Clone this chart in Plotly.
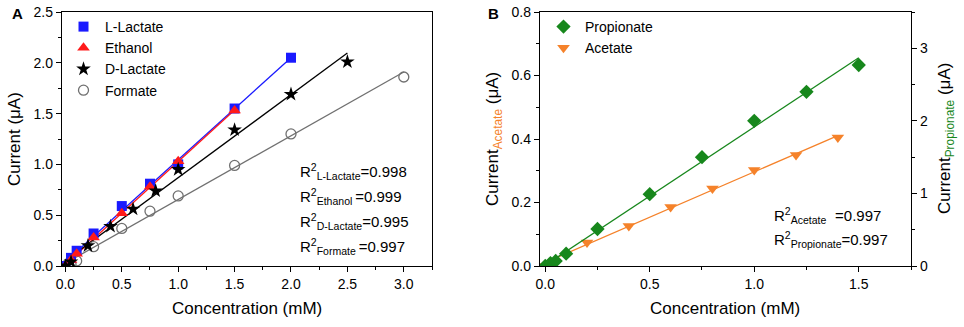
import numpy as np
import plotly.graph_objects as go

# ---------- Panel A data ----------
llac_x = [0, 0.05, 0.1, 0.25, 0.5, 0.75, 1.0, 1.5, 2.0]
llac_y = [0, 0.08, 0.15, 0.32, 0.59, 0.81, 1.00, 1.55, 2.05]
eth_x = [0, 0.05, 0.1, 0.25, 0.5, 0.75, 1.0, 1.5]
eth_y = [0, 0.06, 0.12, 0.28, 0.52, 0.78, 1.03, 1.53]
dlac_x = [0, 0.05, 0.2, 0.4, 0.6, 0.8, 1.0, 1.5, 2.0, 2.5]
dlac_y = [0, 0.04, 0.20, 0.39, 0.56, 0.74, 0.95, 1.34, 1.69, 2.01]
form_x = [0, 0.05, 0.1, 0.25, 0.5, 0.75, 1.0, 1.5, 2.0, 3.0]
form_y = [0, 0.02, 0.05, 0.19, 0.37, 0.54, 0.69, 0.99, 1.30, 1.86]
r2_a_names = ["L-Lactate", "Ethanol ", "D-Lactate", "Formate "]
r2_a_vals = ["0.998", "0.999", "0.995", "0.997"]

# ---------- Panel B data ----------
prop_x = [0, 0.025, 0.05, 0.1, 0.25, 0.5, 0.75, 1.0, 1.25, 1.5]
prop_y = [0, 0.04, 0.07, 0.17, 0.51, 0.99, 1.50, 2.00, 2.40, 2.77]   # right axis
acet_x = [0, 0.2, 0.4, 0.6, 0.8, 1.0, 1.2, 1.4]
acet_y = [0, 0.074, 0.126, 0.186, 0.244, 0.302, 0.350, 0.405]        # left axis
r2_b_names = ["Acetate   ", "Propionate"]
r2_b_vals = ["0.997", "0.997"]

FONT = "Liberation Sans, Arial, sans-serif"
BLUE, RED, BLACK, GRAY = "#1a1aff", "#ff1a1a", "#000000", "#707070"
GREEN, ORANGE = "#17871c", "#f5822a"


def fit_line(x, y):
    k, b = np.polyfit(x, y, 1)
    xs = np.array([min(x), max(x)])
    return xs, k * xs + b


fig = go.Figure()

# Panel A fit lines
for x, y, c in [(llac_x, llac_y, BLUE), (eth_x, eth_y, RED),
                (dlac_x, dlac_y, BLACK), (form_x, form_y, GRAY)]:
    fx, fy = fit_line(x, y)
    fig.add_trace(go.Scatter(x=fx, y=fy, mode="lines", line=dict(color=c, width=1.3),
                             showlegend=False, xaxis="x", yaxis="y", hoverinfo="skip"))

fig.add_trace(go.Scatter(x=form_x, y=form_y, mode="markers", name="Formate",
                         marker=dict(symbol="circle-open", size=10, color=GRAY, line=dict(width=1.3)),
                         xaxis="x", yaxis="y", legend="legend", legendrank=4))
fig.add_trace(go.Scatter(x=llac_x, y=llac_y, mode="markers", name="L-Lactate",
                         marker=dict(symbol="square", size=10, color=BLUE),
                         xaxis="x", yaxis="y", legend="legend", legendrank=1))
fig.add_trace(go.Scatter(x=eth_x, y=eth_y, mode="markers", name="Ethanol",
                         marker=dict(symbol="triangle-up", size=11, color=RED),
                         xaxis="x", yaxis="y", legend="legend", legendrank=2))
fig.add_trace(go.Scatter(x=dlac_x, y=dlac_y, mode="markers", name="D-Lactate",
                         marker=dict(symbol="star", size=11, color=BLACK),
                         xaxis="x", yaxis="y", legend="legend", legendrank=3))

# Panel B fit lines
fx, fy = fit_line(prop_x, prop_y)
fig.add_trace(go.Scatter(x=fx, y=fy, mode="lines", line=dict(color=GREEN, width=1.3),
                         showlegend=False, xaxis="x2", yaxis="y3", hoverinfo="skip"))
fx, fy = fit_line(acet_x, acet_y)
fig.add_trace(go.Scatter(x=fx, y=fy, mode="lines", line=dict(color=ORANGE, width=1.3),
                         showlegend=False, xaxis="x2", yaxis="y2", hoverinfo="skip"))
fig.add_trace(go.Scatter(x=prop_x, y=prop_y, mode="markers", name="Propionate",
                         marker=dict(symbol="diamond", size=11, color=GREEN),
                         xaxis="x2", yaxis="y3", legend="legend2", legendrank=1))
fig.add_trace(go.Scatter(x=acet_x, y=acet_y, mode="markers", name="Acetate",
                         marker=dict(symbol="triangle-down", size=11, color=ORANGE),
                         xaxis="x2", yaxis="y2", legend="legend2", legendrank=2))

W, H = 964, 327
ya_dom = [1 - 266 / H, 1 - 12 / H]
axcommon = dict(showline=True, linecolor="black", linewidth=1.3, ticks="outside",
                ticklen=5, tickwidth=1.2, tickcolor="black", showgrid=False, zeroline=False,
                tickfont=dict(family=FONT, size=14, color="black"), automargin=False)


def minor(vals):
    return dict(tickvals=vals, ticks="outside", ticklen=3, tickwidth=1, tickcolor="black")


fig.update_layout(
    width=W, height=H, margin=dict(l=0, r=0, t=0, b=0),
    paper_bgcolor="white", plot_bgcolor="white",
    font=dict(family=FONT, color="black"),
    xaxis=dict(domain=[62 / W, 432 / W], range=[-0.03, 3.25], anchor="y",
               tickvals=[0, 0.5, 1.0, 1.5, 2.0, 2.5, 3.0], tickformat=".1f",
               mirror=True, minor=minor([0.25, 0.75, 1.25, 1.75, 2.25, 2.75, 3.25]), **axcommon),
    yaxis=dict(domain=ya_dom, range=[0, 2.5], anchor="x",
               tickvals=[0, 0.5, 1.0, 1.5, 2.0, 2.5], tickformat=".1f", mirror=True,
               minor=minor([0.25, 0.75, 1.25, 1.75, 2.25]), **axcommon),
    xaxis2=dict(domain=[540 / W, 911 / W], range=[-0.025, 1.75], anchor="y2",
                tickvals=[0, 0.5, 1.0, 1.5], tickformat=".1f", mirror=True,
                minor=minor([0.25, 0.75, 1.25, 1.75]), **axcommon),
    yaxis2=dict(domain=ya_dom, range=[0, 0.8], anchor="x2",
                tickvals=[0, 0.2, 0.4, 0.6, 0.8], tickformat=".1f",
                minor=minor([0.1, 0.3, 0.5, 0.7]), **axcommon),
    yaxis3=dict(range=[0, 3.5], overlaying="y2", side="right", anchor="x2",
                tickvals=[0, 1, 2, 3], minor=minor([0.5, 1.5, 2.5, 3.5]), **axcommon),
    legend=dict(x=62 / W, y=1 - 11 / H, xanchor="left", yanchor="top",
                bgcolor="rgba(0,0,0,0)", font=dict(family=FONT, size=14),
                tracegroupgap=0, itemwidth=33),
    legend2=dict(x=542 / W, y=1 - 11 / H, xanchor="left", yanchor="top",
                 bgcolor="rgba(0,0,0,0)", font=dict(family=FONT, size=14),
                 tracegroupgap=0, itemwidth=33),
)

ann = []
ann.append(dict(text="<b>A</b>", x=10 / W, y=1 - 13 / H, xref="paper", yref="paper",
                xanchor="left", yanchor="middle", showarrow=False, font=dict(size=15, family=FONT)))
ann.append(dict(text="<b>B</b>", x=486 / W, y=1 - 13 / H, xref="paper", yref="paper",
                xanchor="left", yanchor="middle", showarrow=False, font=dict(size=15, family=FONT)))
ann.append(dict(text="Concentration (mM)", x=247 / W, y=1 - 308 / H, xref="paper", yref="paper",
                xanchor="center", yanchor="middle", showarrow=False, font=dict(size=17, family=FONT)))
ann.append(dict(text="Concentration (mM)", x=725 / W, y=1 - 308 / H, xref="paper", yref="paper",
                xanchor="center", yanchor="middle", showarrow=False, font=dict(size=17, family=FONT)))
ann.append(dict(text="Current (μA)", x=14 / W, y=1 - 139 / H, xref="paper", yref="paper",
                xanchor="center", yanchor="middle", textangle=-90, showarrow=False,
                font=dict(size=17, family=FONT)))
ann.append(dict(text=f"Current<sub><span style='color:{ORANGE}'>Acetate</span></sub> (μA)",
                x=494 / W, y=1 - 139 / H, xref="paper", yref="paper",
                xanchor="center", yanchor="middle", textangle=-90, showarrow=False,
                font=dict(size=17, family=FONT)))
ann.append(dict(text=f"Current<sub><span style='color:{GREEN}'>Propionate</span></sub> (μA)",
                x=946 / W, y=1 - 139 / H, xref="paper", yref="paper",
                xanchor="center", yanchor="middle", textangle=-90, showarrow=False,
                font=dict(size=17, family=FONT)))
for i, (n, v) in enumerate(zip(r2_a_names, r2_a_vals)):
    ann.append(dict(text=f"R<sup>2</sup><sub>{n}</sub>={v}".replace(" ", "&nbsp;"),
                    x=298 / W, y=1 - (171 + 25 * i) / H, xref="paper", yref="paper",
                    xanchor="left", yanchor="middle", showarrow=False,
                    font=dict(size=15, family=FONT)))
for i, (n, v) in enumerate(zip(r2_b_names, r2_b_vals)):
    ann.append(dict(text=f"R<sup>2</sup><sub>{n}</sub>={v}".replace(" ", "&nbsp;"),
                    x=772 / W, y=1 - (215 + 24 * i) / H, xref="paper", yref="paper",
                    xanchor="left", yanchor="middle", showarrow=False,
                    font=dict(size=15, family=FONT)))
fig.update_layout(annotations=ann)

fig.write_html("out.html", config={"displayModeBar": False},
               post_script="document.body.style.margin='0';document.body.style.overflow='hidden';")
